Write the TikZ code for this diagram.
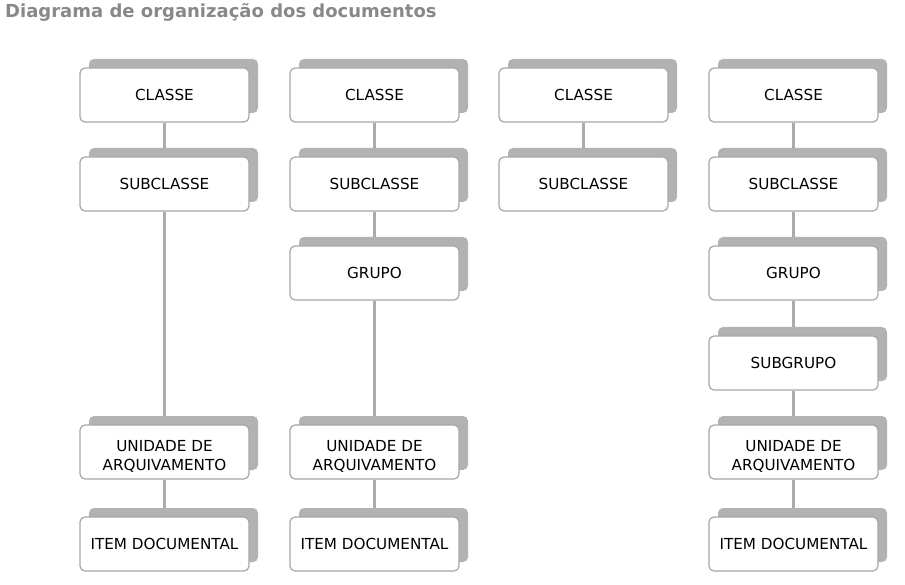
\documentclass[tikz,border=0pt]{standalone}
\usepackage{fontspec}
\setmainfont{DejaVu Sans}
\usetikzlibrary{shadows,backgrounds}
\definecolor{shadowgray}{HTML}{B2B2B2}
\definecolor{bordergray}{HTML}{A6A6A6}
\definecolor{linegray}{HTML}{ABABAB}
\definecolor{titlegray}{HTML}{888888}
\tikzset{
  box/.style={draw=bordergray, line width=1.2pt, fill=white, rounded corners=5pt,
    minimum width=169pt, minimum height=54pt, inner sep=0pt, align=center,
    font=\fontsize{15.2}{18.3}\selectfont,
    general shadow={fill=shadowgray, draw=none, shadow xshift=9pt, shadow yshift=9pt}},
  twoline/.style={box, text height=37pt, text depth=1pt},
  conn/.style={draw=linegray, line width=2.5pt},
}
\begin{document}
\begin{tikzpicture}[x=1pt,y=-1pt]
\useasboundingbox (0,0) rectangle (905,585);
\node[anchor=base west, text=titlegray, font=\bfseries\fontsize{18}{21}\selectfont, inner sep=0pt] (title) at (5,17.5) {Diagrama de organização dos documentos};
% column 1
\node[box] (a1) at (164.5,95) {CLASSE};
\node[box] (a2) at (164.5,184) {SUBCLASSE};
\node[twoline] (a5) at (164.5,452) {UNIDADE DE\\ARQUIVAMENTO};
\node[box] (a6) at (164.5,544) {ITEM DOCUMENTAL};
% column 2
\node[box] (b1) at (374.5,95) {CLASSE};
\node[box] (b2) at (374.5,184) {SUBCLASSE};
\node[box] (b3) at (374.5,273) {GRUPO};
\node[twoline] (b5) at (374.5,452) {UNIDADE DE\\ARQUIVAMENTO};
\node[box] (b6) at (374.5,544) {ITEM DOCUMENTAL};
% column 3
\node[box] (c1) at (583.5,95) {CLASSE};
\node[box] (c2) at (583.5,184) {SUBCLASSE};
% column 4
\node[box] (d1) at (793.5,95) {CLASSE};
\node[box] (d2) at (793.5,184) {SUBCLASSE};
\node[box] (d3) at (793.5,273) {GRUPO};
\node[box] (d4) at (793.5,363) {SUBGRUPO};
\node[twoline] (d5) at (793.5,452) {UNIDADE DE\\ARQUIVAMENTO};
\node[box] (d6) at (793.5,544) {ITEM DOCUMENTAL};
\begin{pgfonlayer}{background}
\draw[conn] (a1) -- (a2); \draw[conn] (a2) -- (a5); \draw[conn] (a5) -- (a6);
\draw[conn] (b1) -- (b2); \draw[conn] (b2) -- (b3); \draw[conn] (b3) -- (b5); \draw[conn] (b5) -- (b6);
\draw[conn] (c1) -- (c2);
\draw[conn] (d1) -- (d2); \draw[conn] (d2) -- (d3); \draw[conn] (d3) -- (d4); \draw[conn] (d4) -- (d5); \draw[conn] (d5) -- (d6);
\end{pgfonlayer}
\end{tikzpicture}
\end{document}
